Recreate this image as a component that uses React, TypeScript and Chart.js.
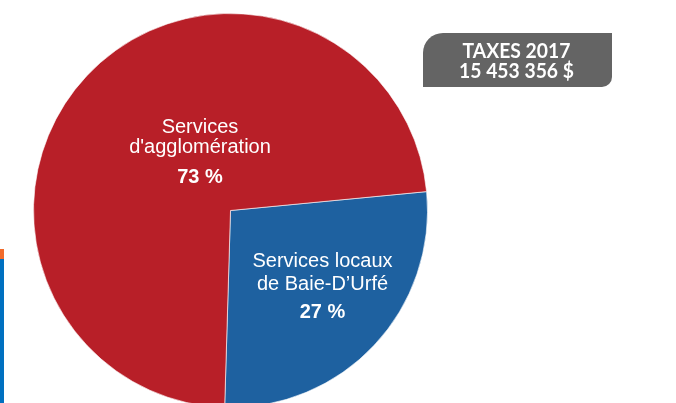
import React, { useEffect, useRef } from "react";
import { Chart, registerables } from "chart.js";

Chart.register(...registerables);

const categories = ["Services locaux de Baie-D’Urfé", "Services d'agglomération"];
const values = [27, 73];
const colors = ["#1E61A0", "#B81F28"];
const labelLines = [
  ["Services locaux", "de Baie-D’Urfé", "27 %"],
  ["Services", "d'agglomération", "73 %"],
];
const badgeLines = ["TAXES 2017", "15 453 356 $"];

// label placement relative to pie centre (px)
const labelOffsets = [
  { dx: 92, dys: [56.5, 79.5, 107.5] },
  { dx: -30.5, dys: [-77.5, -57.5, -27.5] },
];

const labelPlugin = {
  id: "sliceLabels",
  afterDatasetsDraw(chart: any) {
    const meta = chart.getDatasetMeta(0);
    const ctx = chart.ctx;
    ctx.save();
    ctx.fillStyle = "#ffffff";
    ctx.textAlign = "center";
    ctx.textBaseline = "alphabetic";
    meta.data.forEach((arc: any, i: number) => {
      const off = labelOffsets[i];
      const lines = labelLines[i];
      lines.forEach((t, j) => {
        const bold = j === lines.length - 1;
        ctx.font = `${bold ? "bold " : ""}20px "Liberation Sans", Arial, sans-serif`;
        ctx.fillText(t, arc.x + off.dx, arc.y + off.dys[j]);
      });
    });
    ctx.restore();
  },
};

export default function App() {
  const ref = useRef<HTMLCanvasElement | null>(null);
  useEffect(() => {
    if (!ref.current) return;
    const chart = new Chart(ref.current, {
      type: "pie",
      data: {
        labels: categories,
        datasets: [
          {
            data: values,
            backgroundColor: colors,
            borderColor: "rgba(255,255,255,0.6)",
            borderWidth: 1,
          },
        ],
      },
      options: {
        responsive: false,
        animation: false,
        rotation: 84.5,
        layout: { padding: { left: 33, top: 13, right: 248, bottom: 12 } },
        plugins: {
          legend: { display: false },
          tooltip: { enabled: false },
        },
      },
      plugins: [labelPlugin],
    });
    return () => chart.destroy();
  }, []);

  return (
    <div
      style={{
        position: "fixed",
        left: 0,
        top: 0,
        width: 676,
        height: 403,
        overflow: "hidden",
        background: "#ffffff",
      }}
    >
      <canvas ref={ref} width={676} height={420} style={{ position: "absolute", left: 0, top: 0 }} />
      <div style={{ position: "absolute", left: 0, top: 249, width: 4, height: 10, background: "#F26B2B" }} />
      <div style={{ position: "absolute", left: 0, top: 259, width: 4, height: 144, background: "#0070C0" }} />
      <div
        style={{
          position: "absolute",
          left: 423,
          top: 33,
          width: 189,
          height: 54,
          background: "#646464",
          borderTopLeftRadius: 20,
          borderBottomRightRadius: 10,
          color: "#ffffff",
          fontFamily: "Lato, 'Open Sans', sans-serif",
          fontWeight: 700,
          fontSize: 21,
          lineHeight: "20px",
          textAlign: "center",
          paddingTop: 7,
          boxSizing: "border-box",
        }}
      >
        {badgeLines.map((l) => (
          <div key={l} style={{ transform: "translateX(-1px) scaleX(0.92)", whiteSpace: "nowrap" }}>
            {l}
          </div>
        ))}
      </div>
    </div>
  );
}
